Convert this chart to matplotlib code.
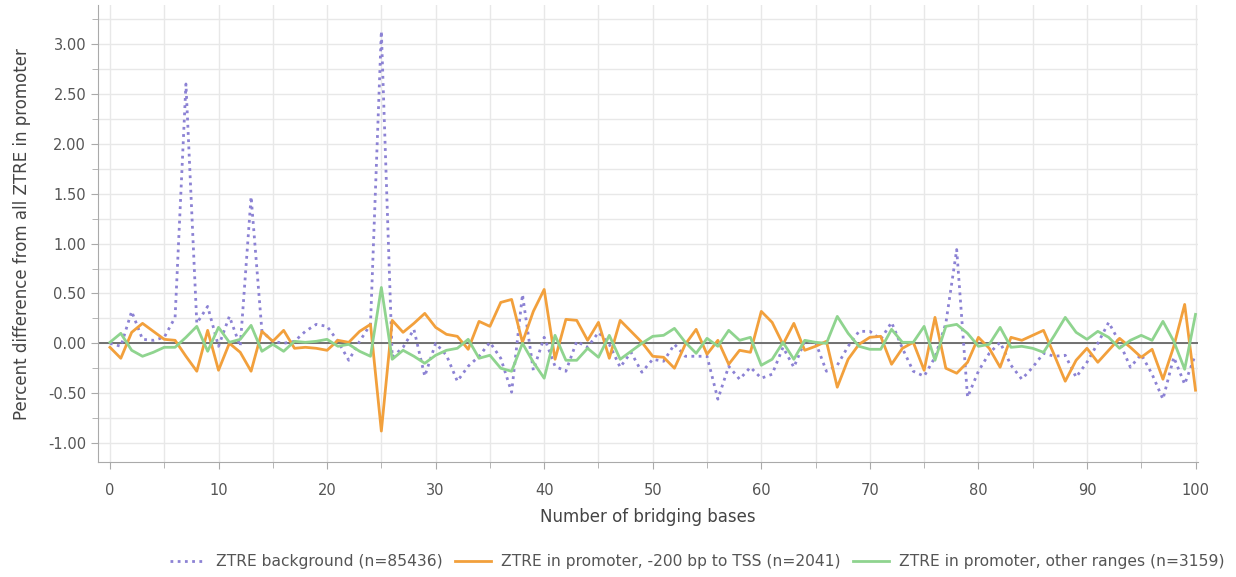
import matplotlib
matplotlib.use("Agg")
import matplotlib.pyplot as plt
from matplotlib.ticker import MultipleLocator, FormatStrFormatter

bases = list(range(0, 101))

background = [0, -0.03, 0.32, 0.04, 0.03, 0.06, 0.26, 2.6, 0.2, 0.37,
              -0.03, 0.27, -0.03, 1.47, 0.12, 0.02, 0.0, 0.02, 0.12, 0.19,
              0.17, 0.02, -0.17, 0.02, 0.19, 3.13, -0.14, -0.04, 0.14, -0.33,
              0.0, -0.12, -0.38, -0.23, -0.13, 0.01, -0.15, -0.49, 0.49, -0.27,
              0.06, -0.23, -0.28, 0.02, -0.04, 0.11, -0.01, -0.24, -0.09, -0.29,
              -0.16, -0.18, -0.01, -0.13, -0.13, -0.13, -0.56, -0.23, -0.36, -0.24,
              -0.35, -0.31, -0.04, -0.24, 0.02, 0.01, -0.28, -0.22, -0.03, 0.12,
              0.12, 0.04, 0.21, -0.05, -0.28, -0.33, -0.14, 0.2, 0.94, -0.54,
              -0.28, -0.1, 0.01, -0.22, -0.36, -0.24, -0.1, -0.13, -0.12, -0.34,
              -0.19, 0.0, 0.21, 0.01, -0.24, -0.11, -0.31, -0.56, -0.14, -0.41,
              -0.11]

promoter_200 = [-0.04, -0.15, 0.11, 0.2, 0.12, 0.04, 0.03, -0.13, -0.28, 0.13,
                -0.27, 0.0, -0.09, -0.28, 0.12, 0.02, 0.13, -0.05, -0.04, -0.05,
                -0.07, 0.03, 0.01, 0.12, 0.19, -0.88, 0.23, 0.11, 0.2, 0.3,
                0.16, 0.09, 0.07, -0.06, 0.22, 0.17, 0.41, 0.44, 0.01, 0.32,
                0.54, -0.16, 0.24, 0.23, 0.03, 0.21, -0.15, 0.23, 0.12, 0.01,
                -0.13, -0.14, -0.25, -0.01, 0.14, -0.11, 0.03, -0.21, -0.07, -0.09,
                0.32, 0.21, -0.01, 0.2, -0.07, -0.03, 0.02, -0.44, -0.16, -0.01,
                0.06, 0.07, -0.21, -0.05, 0.01, -0.27, 0.26, -0.25, -0.3, -0.19,
                0.06, -0.05, -0.24, 0.06, 0.03, 0.08, 0.13, -0.12, -0.38, -0.17,
                -0.05, -0.19, -0.07, 0.05, -0.04, -0.14, -0.06, -0.36, -0.03, 0.39,
                -0.47]

promoter_other = [0.01, 0.1, -0.07, -0.13, -0.09, -0.04, -0.04, 0.06, 0.17, -0.08,
                  0.16, 0.01, 0.04, 0.18, -0.08, -0.01, -0.08, 0.02, 0.01, 0.02,
                  0.04, -0.03, -0.01, -0.08, -0.13, 0.56, -0.16, -0.07, -0.13, -0.2,
                  -0.12, -0.07, -0.05, 0.04, -0.15, -0.12, -0.25, -0.28, 0.0, -0.19,
                  -0.35, 0.08, -0.17, -0.17, -0.05, -0.14, 0.08, -0.16, -0.08, 0.0,
                  0.07, 0.08, 0.15, 0.01, -0.1, 0.05, -0.03, 0.13, 0.03, 0.06,
                  -0.22, -0.16, 0.01, -0.16, 0.03, 0.01, 0.0, 0.27, 0.1, -0.03,
                  -0.06, -0.06, 0.14, 0.01, 0.01, 0.17, -0.17, 0.17, 0.19, 0.1,
                  -0.03, -0.01, 0.16, -0.04, -0.03, -0.05, -0.09, 0.08, 0.26, 0.11,
                  0.04, 0.12, 0.06, -0.05, 0.03, 0.08, 0.03, 0.22, 0.02, -0.26,
                  0.29]

labels = ["ZTRE background (n=85436)",
          "ZTRE in promoter, -200 bp to TSS (n=2041)",
          "ZTRE in promoter, other ranges (n=3159)"]
colors = ["#8c82d4", "#f2a03c", "#8fd48f"]

plt.rcParams['font.family'] = ['DejaVu Sans']

fig = plt.figure(figsize=(12.36, 5.77), dpi=100)
ax = fig.add_axes([0.0793, 0.1993, 0.8897, 0.7917])

ax.axhline(0, color="#666666", lw=1.3, zorder=2)
ax.plot(bases, background, color=colors[0], lw=2, ls=(0, (1, 1.6)), label=labels[0], zorder=3)
ax.plot(bases, promoter_200, color=colors[1], lw=2, label=labels[1], zorder=4)
ax.plot(bases, promoter_other, color=colors[2], lw=2, label=labels[2], zorder=5)

ax.set_xlim(-1.1, 100.2)
ax.set_ylim(-1.19, 3.39)

ax.xaxis.set_major_locator(MultipleLocator(10))
ax.xaxis.set_minor_locator(MultipleLocator(5))
ax.yaxis.set_major_locator(MultipleLocator(0.5))
ax.yaxis.set_minor_locator(MultipleLocator(0.25))
ax.yaxis.set_major_formatter(FormatStrFormatter("%.2f"))

ax.grid(True, which="both", color="#e8e8e8", lw=1, zorder=0)
ax.set_axisbelow(True)

for s in ["top", "right"]:
    ax.spines[s].set_visible(False)
for s in ["left", "bottom"]:
    ax.spines[s].set_color("#aaaaaa")

ax.tick_params(which="both", colors="#aaaaaa", labelcolor="#555555", labelsize=10.5, length=5)
ax.tick_params(which="minor", length=4)
ax.tick_params(axis="x", which="major", pad=10)

ax.set_xlabel("Number of bridging bases", fontsize=12, color="#444444", labelpad=7)
ax.set_ylabel("Percent difference from all ZTRE in promoter", fontsize=12, color="#444444", labelpad=12)

fig.legend(loc="center", bbox_to_anchor=(0.564, 0.026), ncol=3, frameon=False,
           fontsize=11.2, handlelength=2.3, columnspacing=0.8, handletextpad=0.65,
           labelcolor="#555555")

fig.savefig("out.png", dpi=100)
